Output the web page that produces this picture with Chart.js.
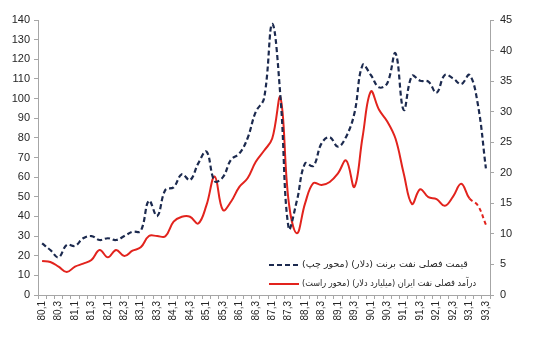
<!DOCTYPE html>
<html>
<head>
<meta charset="utf-8">
<script src="https://cdn.jsdelivr.net/npm/chart.js@4.4.1/dist/chart.umd.min.js"></script>
<style>
  html, body { margin: 0; padding: 0; background: #ffffff; }
  #wrap { width: 540px; height: 337px; }
</style>
</head>
<body>
<div id="wrap"><canvas id="c" width="540" height="337"></canvas></div>
<script>
// Quarter labels 80,1 ... 93,3 (Iranian calendar years)
const years = [80, 81, 82, 83, 84, 85, 86, 87, 88, 89, 90, 91, 92, 93];
const quarters = [1, 2, 3, 4];
const quarterLabels = [];
years.forEach(y => quarters.forEach(q => {
  if (!(y === 93 && q === 4)) quarterLabels.push(y + ',' + q);
}));

// Brent quarterly price, USD (left axis)
const brentPrice = [
  26.3, 22.9, 19.2, 25.5, 25.0, 28.9, 30.0, 28.0, 28.9, 28.0,
  30.0, 32.2, 32.6, 48.0, 40.2, 53.5, 54.8, 61.5, 58.5, 67.0,
  73.0, 58.0, 60.0, 69.0, 72.0, 79.8, 93.3, 100.0, 138.0, 101.0,
  34.0, 48.0, 67.0, 65.7, 77.2, 80.3, 75.5, 80.6, 92.5, 117.0,
  112.0, 105.7, 107.8, 123.0, 94.2, 111.5, 109.1, 108.6, 103.0, 112.0,
  110.3, 107.4, 112.0, 97.6, 64.5
];

// Iran quarterly oil revenue, billion USD (right axis)
const oilRevenue = [
  5.56, 5.4, 4.64, 3.76, 4.64, 5.13, 5.73, 7.36, 6.16, 7.36,
  6.38, 7.25, 7.8, 9.65, 9.65, 9.6, 12.0, 12.8, 12.8, 11.7,
  14.7, 19.4, 13.9, 15.3, 17.7, 19.1, 21.8, 23.6, 25.6, 32.3,
  15.3, 10.1, 15.0, 18.3, 18.0, 18.5, 19.9, 22.0, 17.7, 25.9,
  33.3, 30.3, 28.4, 25.6, 19.9, 14.9, 17.3, 16.0, 15.7, 14.6,
  16.1, 18.2, 15.8, 14.7, 11.5
];
// revenue from this index onward is an estimate (drawn dashed)
const estimateFrom = 52;

const leftTicks = { min: 0, max: 140, step: 10 };
const rightTicks = { min: 0, max: 45, step: 5 };

const brentLabel = 'قیمت فصلی نفت برنت (دلار) (محور چپ)';
const revenueLabel = 'درآمد فصلی نفت ایران (میلیارد دلار) (محور راست)';

const NAVY = '#1c2a4f';
const RED = '#e2231d';
const AXIS = '#a6a6a6';
const TXT = '#262626';
const FONT = "'Liberation Sans', Arial, sans-serif";

// legend drawn inside the plot, lower right
const insideLegend = {
  id: 'insideLegend',
  afterDraw(chart) {
    const ctx = chart.ctx;
    const area = chart.chartArea;
    const x0 = area.left + 231;
    const textMax = area.right - 14 - (x0 + 33);
    const rows = [
      { ds: chart.data.datasets[0], y: area.bottom - 30 },
      { ds: chart.data.datasets[1], y: area.bottom - 11 }
    ];
    ctx.save();
    rows.forEach(r => {
      ctx.beginPath();
      ctx.strokeStyle = r.ds.borderColor;
      ctx.lineWidth = r.ds.borderWidth;
      ctx.setLineDash(r.ds.borderDash || []);
      ctx.moveTo(x0, r.y);
      ctx.lineTo(x0 + 30, r.y);
      ctx.stroke();
      ctx.setLineDash([]);
      ctx.fillStyle = TXT;
      ctx.font = "9.5px 'DejaVu Sans', sans-serif";
      ctx.direction = 'rtl';
      ctx.textAlign = 'left';
      ctx.textBaseline = 'middle';
      ctx.fillText(r.ds.label, x0 + 33, r.y, textMax);
    });
    ctx.restore();
  }
};

new Chart(document.getElementById('c'), {
  type: 'line',
  data: {
    labels: quarterLabels,
    datasets: [
      {
        label: brentLabel,
        data: brentPrice,
        yAxisID: 'yLeft',
        borderColor: NAVY,
        borderWidth: 2.2,
        borderDash: [5, 3],
        pointRadius: 0,
        tension: 0.4,
        fill: false
      },
      {
        label: revenueLabel,
        data: oilRevenue,
        yAxisID: 'yRight',
        borderColor: RED,
        borderWidth: 2,
        pointRadius: 0,
        tension: 0.4,
        fill: false,
        segment: {
          borderDash: c => c.p0DataIndex >= estimateFrom ? [4, 3] : undefined
        }
      }
    ]
  },
  options: {
    responsive: false,
    animation: false,
    devicePixelRatio: 1,
    layout: { padding: { top: 20, left: 0, right: 0, bottom: 0 } },
    plugins: {
      legend: { display: false },
      tooltip: { enabled: false }
    },
    scales: {
      x: {
        offset: true,
        grid: { offset: true, drawOnChartArea: false, drawTicks: true, tickLength: 4, color: AXIS },
        border: { display: true, color: AXIS, width: 1 },
        ticks: {
          autoSkip: false,
          minRotation: 90,
          maxRotation: 90,
          padding: 2,
          color: TXT,
          font: { family: FONT, size: 10 },
          callback: (v, i) => (i % 2 === 0 ? quarterLabels[i] : '')
        },
        afterFit: s => { s.height = 42; }
      },
      yLeft: {
        position: 'left',
        min: leftTicks.min,
        max: leftTicks.max,
        grid: { drawOnChartArea: false, drawTicks: true, tickLength: 4, color: AXIS },
        border: { display: true, color: AXIS, width: 1 },
        ticks: { stepSize: leftTicks.step, padding: 4, color: TXT, font: { family: FONT, size: 11 } },
        afterFit: s => { s.width = 38; }
      },
      yRight: {
        position: 'right',
        min: rightTicks.min,
        max: rightTicks.max,
        grid: { drawOnChartArea: false, drawTicks: true, tickLength: 4, color: AXIS },
        border: { display: true, color: AXIS, width: 1 },
        ticks: { stepSize: rightTicks.step, padding: 6, color: TXT, font: { family: FONT, size: 11 } },
        afterFit: s => { s.width = 50; }
      }
    }
  },
  plugins: [insideLegend]
});
</script>
</body>
</html>
